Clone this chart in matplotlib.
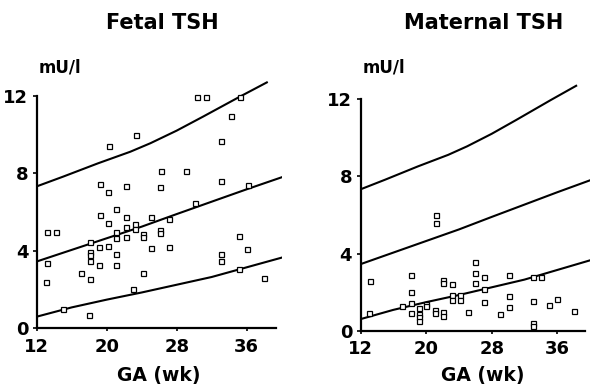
import matplotlib
matplotlib.use('Agg')
import matplotlib.pyplot as plt

# fetal TSH (mU/l) vs gestational age (wk)
fetal_ga = [13.2, 14.2, 13.2, 13.1, 15.0, 17.1, 18.1, 18.1, 18.1, 18.1, 18.1, 18.0,
            19.2, 19.2, 19.1, 19.1, 20.3, 20.2, 20.2, 20.2, 21.1, 21.1, 21.1, 21.1, 21.1,
            22.2, 22.2, 22.2, 22.2, 23.2, 23.2, 23.3, 23.0, 24.1, 24.1, 24.1, 25.1, 25.1,
            26.2, 26.1, 26.1, 26.1, 27.1, 27.1, 29.1, 30.1, 30.3, 31.3, 33.1, 33.1, 33.1,
            33.1, 34.2, 35.2, 35.1, 35.1, 36.1, 36.0, 38.0]
fetal_tsh = [4.96, 4.96, 3.37, 2.38, 0.98, 2.88, 4.48, 3.94, 3.80, 3.46, 2.55, 0.67,
             7.46, 5.84, 4.18, 3.27, 9.42, 7.06, 5.46, 4.25, 6.16, 4.96, 4.65, 3.86, 3.25,
             7.33, 5.75, 5.25, 4.72, 5.37, 5.12, 10.0, 2.05, 4.89, 4.72, 2.84, 5.73, 4.13,
             8.14, 7.32, 5.08, 4.91, 5.63, 4.22, 8.11, 6.49, 11.97, 11.97, 9.68, 7.59, 3.84,
             3.48, 10.97, 11.97, 4.79, 3.06, 7.39, 4.08, 2.58]

# maternal TSH
maternal_ga = [13.1, 13.0, 17.1, 18.2, 18.2, 18.2, 18.1, 19.1, 19.1, 19.1, 19.1, 20.0, 20.0,
               21.2, 21.2, 21.1, 21.1, 22.1, 22.1, 22.1, 22.1, 23.1, 23.1, 23.1, 24.1, 24.1,
               25.1, 26.0, 26.0, 26.0, 27.1, 27.1, 27.1, 29.0, 30.1, 30.1, 30.1, 33.0, 34.0,
               33.0, 33.0, 33.0, 35.0, 36.0, 38.0]
maternal_tsh = [2.59, 0.90, 1.30, 2.90, 1.99, 1.42, 0.90, 1.16, 0.86, 0.69, 0.48, 1.38, 1.28,
                5.98, 5.59, 1.07, 0.90, 2.63, 2.49, 0.99, 0.76, 2.40, 1.85, 1.59, 1.85, 1.59,
                0.99, 3.54, 2.97, 2.49, 2.80, 2.16, 1.47, 0.86, 2.89, 1.80, 1.25, 2.77, 2.77,
                1.56, 0.38, 0.24, 1.33, 1.64, 1.02]

# reference curves
upper_ga = [12, 15, 19, 22.7, 25, 28, 31, 35.2, 38.3]
upper_tsh = [7.33, 7.83, 8.52, 9.12, 9.56, 10.21, 10.93, 11.96, 12.7]
curve_ga = [12, 16, 20, 24, 28, 32, 36, 40]
mid_tsh = [3.45, 4.05, 4.65, 5.25, 5.90, 6.54, 7.18, 7.80]
lower_tsh = [0.60, 1.08, 1.48, 1.85, 2.25, 2.65, 3.15, 3.65]

xticks = [12, 20, 28, 36]
yticks = [0, 4, 8, 12]

W, H = 603, 390
fig = plt.figure(figsize=(W / 100, H / 100), dpi=100)
plt.rcParams['font.family'] = 'DejaVu Sans'

panels = [
    ("Fetal TSH", fetal_ga, fetal_tsh, [36.7 / W, 61.7 / H, 245 / W, 251.7 / H], 162.5, 158.5),
    ("Maternal TSH", maternal_ga, maternal_tsh, [360.5 / W, 59.3 / H, 229.6 / W, 250.7 / H], 484, 482.5),
]

for title, ga, tsh, rect, tx, lx in panels:
    ax = fig.add_axes(rect)
    ax.plot(upper_ga, upper_tsh, color='black', lw=1.5)
    ax.plot(curve_ga, mid_tsh, color='black', lw=1.5)
    ax.plot(curve_ga, lower_tsh, color='black', lw=1.5)
    ax.plot(ga, tsh, 's', ms=3.6, mfc='white', mec='black', mew=0.9, clip_on=False)

    ax.set_xlim(12, 40)
    ax.set_ylim(0, 13)
    ax.set_xticks(xticks)
    ax.set_yticks(yticks)
    for s in ['top', 'right']:
        ax.spines[s].set_visible(False)
    ax.spines['left'].set_bounds(0, 12)
    ax.spines['bottom'].set_bounds(12, 39.4)
    ax.spines['left'].set_linewidth(1.6)
    ax.spines['bottom'].set_linewidth(1.6)
    ax.tick_params(axis='y', direction='out', length=3, width=1.2, pad=3)
    ax.tick_params(axis='x', direction='out', length=2, width=1.2, pad=5)
    for lab in ax.get_xticklabels() + ax.get_yticklabels():
        lab.set_fontsize(13)
        lab.set_fontweight('bold')

    fig.text(tx / W, 1 - 23 / H, title, ha='center', va='center', fontsize=15, fontweight='bold')
    fig.text(rect[0] + 2 / W, 1 - 67 / H, "mU/l", ha='left', va='center', fontsize=12, fontweight='bold')
    fig.text(lx / W, 1 - 376 / H, "GA (wk)", ha='center', va='center', fontsize=13.5, fontweight='bold')

fig.savefig("out.png", dpi=100)
